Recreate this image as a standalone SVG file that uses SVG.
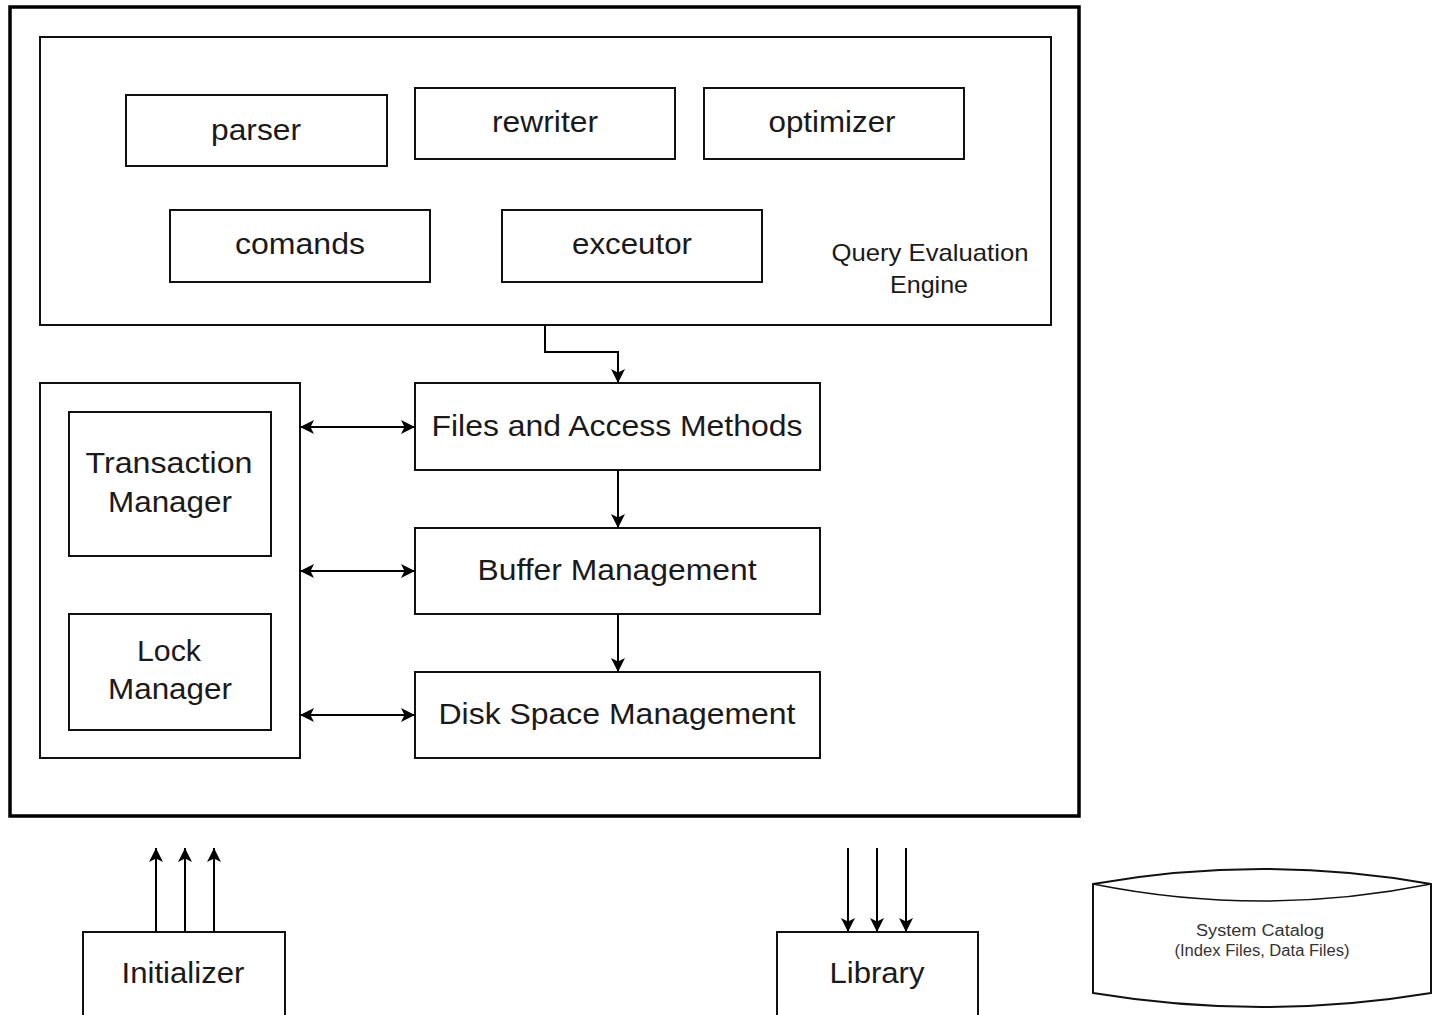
<svg xmlns="http://www.w3.org/2000/svg" width="1434" height="1015" viewBox="0 0 1434 1015">
<defs>
<style>
.box{fill:#fff;stroke:#111;stroke-width:2}
.frame{fill:none;stroke:#000;stroke-width:3.5}
.lbl{font-family:"Liberation Sans",Arial,sans-serif;font-size:30px;fill:#1a1a1a;text-anchor:middle}
.sm{font-family:"Liberation Sans",Arial,sans-serif;font-size:24px;fill:#1a1a1a;text-anchor:middle}
.xs{font-family:"Liberation Sans",Arial,sans-serif;font-size:16px;fill:#333;text-anchor:middle}
.con{fill:none;stroke:#000;stroke-width:2}
</style>
<marker id="ah" viewBox="0 0 12 12" refX="12" refY="6" markerWidth="14" markerHeight="14" markerUnits="userSpaceOnUse" orient="auto-start-reverse">
<path d="M0,0 L12,6 L0,12 L3,6 Z" fill="#000"/>
</marker>
</defs>
<rect width="1434" height="1015" fill="#fff"/>

<g id="system">
<rect class="frame" x="10" y="7" width="1069" height="809"/>
</g>

<g id="query-evaluation-engine">
<rect class="box" x="40" y="37" width="1011" height="288"/>
<text class="sm" x="930" y="261" textLength="197" lengthAdjust="spacingAndGlyphs">Query Evaluation</text>
<text class="sm" x="929" y="293" textLength="78" lengthAdjust="spacingAndGlyphs">Engine</text>
</g>
<g id="parser">
<rect class="box" x="126" y="95" width="261" height="71"/>
<text class="lbl" x="256" y="140" textLength="90" lengthAdjust="spacingAndGlyphs">parser</text>
</g>
<g id="rewriter">
<rect class="box" x="415" y="88" width="260" height="71"/>
<text class="lbl" x="545" y="132" textLength="106" lengthAdjust="spacingAndGlyphs">rewriter</text>
</g>
<g id="optimizer">
<rect class="box" x="704" y="88" width="260" height="71"/>
<text class="lbl" x="832" y="132" textLength="127" lengthAdjust="spacingAndGlyphs">optimizer</text>
</g>
<g id="comands">
<rect class="box" x="170" y="210" width="260" height="72"/>
<text class="lbl" x="300" y="254" textLength="130" lengthAdjust="spacingAndGlyphs">comands</text>
</g>
<g id="exceutor">
<rect class="box" x="502" y="210" width="260" height="72"/>
<text class="lbl" x="632" y="254" textLength="120" lengthAdjust="spacingAndGlyphs">exceutor</text>
</g>

<g id="managers">
<rect class="box" x="40" y="383" width="260" height="375"/>
</g>
<g id="transaction-manager">
<rect class="box" x="69" y="412" width="202" height="144"/>
<text class="lbl" x="169" y="473" textLength="167" lengthAdjust="spacingAndGlyphs">Transaction</text>
<text class="lbl" x="170" y="512" textLength="124" lengthAdjust="spacingAndGlyphs">Manager</text>
</g>
<g id="lock-manager">
<rect class="box" x="69" y="614" width="202" height="116"/>
<text class="lbl" x="169" y="661" textLength="64" lengthAdjust="spacingAndGlyphs">Lock</text>
<text class="lbl" x="170" y="699" textLength="124" lengthAdjust="spacingAndGlyphs">Manager</text>
</g>

<g id="files-access">
<rect class="box" x="415" y="383" width="405" height="87"/>
<text class="lbl" x="617" y="436" textLength="371" lengthAdjust="spacingAndGlyphs">Files and Access Methods</text>
</g>
<g id="buffer-management">
<rect class="box" x="415" y="528" width="405" height="86"/>
<text class="lbl" x="617" y="580" textLength="279" lengthAdjust="spacingAndGlyphs">Buffer Management</text>
</g>
<g id="disk-space-management">
<rect class="box" x="415" y="672" width="405" height="86"/>
<text class="lbl" x="617" y="724" textLength="357" lengthAdjust="spacingAndGlyphs">Disk Space Management</text>
</g>

<g id="initializer">
<rect class="box" x="83" y="932" width="202" height="100"/>
<text class="lbl" x="183" y="983" textLength="123" lengthAdjust="spacingAndGlyphs">Initializer</text>
</g>
<g id="library">
<rect class="box" x="777" y="932" width="201" height="100"/>
<text class="lbl" x="877" y="983" textLength="95" lengthAdjust="spacingAndGlyphs">Library</text>
</g>
<g id="system-catalog">
<path class="box" stroke-width="1.5" d="M1093,884 Q1262,854 1431,884 L1431,993 Q1262,1021 1093,993 Z"/>
<path fill="none" stroke="#111" stroke-width="1.5" d="M1093,884 Q1262,918 1431,884"/>
<text class="xs" x="1260" y="936" textLength="128" lengthAdjust="spacingAndGlyphs">System Catalog</text>
<text class="xs" x="1262" y="956" textLength="175" lengthAdjust="spacingAndGlyphs">(Index Files, Data Files)</text>
</g>

<g id="connectors">
<path class="con" d="M545,325 V352 H618 V383" marker-end="url(#ah)"/>
<path class="con" d="M618,470 V528" marker-end="url(#ah)"/>
<path class="con" d="M618,614 V672" marker-end="url(#ah)"/>
<path class="con" d="M300,427 H415" marker-start="url(#ah)" marker-end="url(#ah)"/>
<path class="con" d="M300,571 H415" marker-start="url(#ah)" marker-end="url(#ah)"/>
<path class="con" d="M300,715 H415" marker-start="url(#ah)" marker-end="url(#ah)"/>
<path class="con" d="M156,932 V848" marker-end="url(#ah)"/>
<path class="con" d="M185,932 V848" marker-end="url(#ah)"/>
<path class="con" d="M214,932 V848" marker-end="url(#ah)"/>
<path class="con" d="M848,848 V932" marker-end="url(#ah)"/>
<path class="con" d="M877,848 V932" marker-end="url(#ah)"/>
<path class="con" d="M906,848 V932" marker-end="url(#ah)"/>
</g>
</svg>
